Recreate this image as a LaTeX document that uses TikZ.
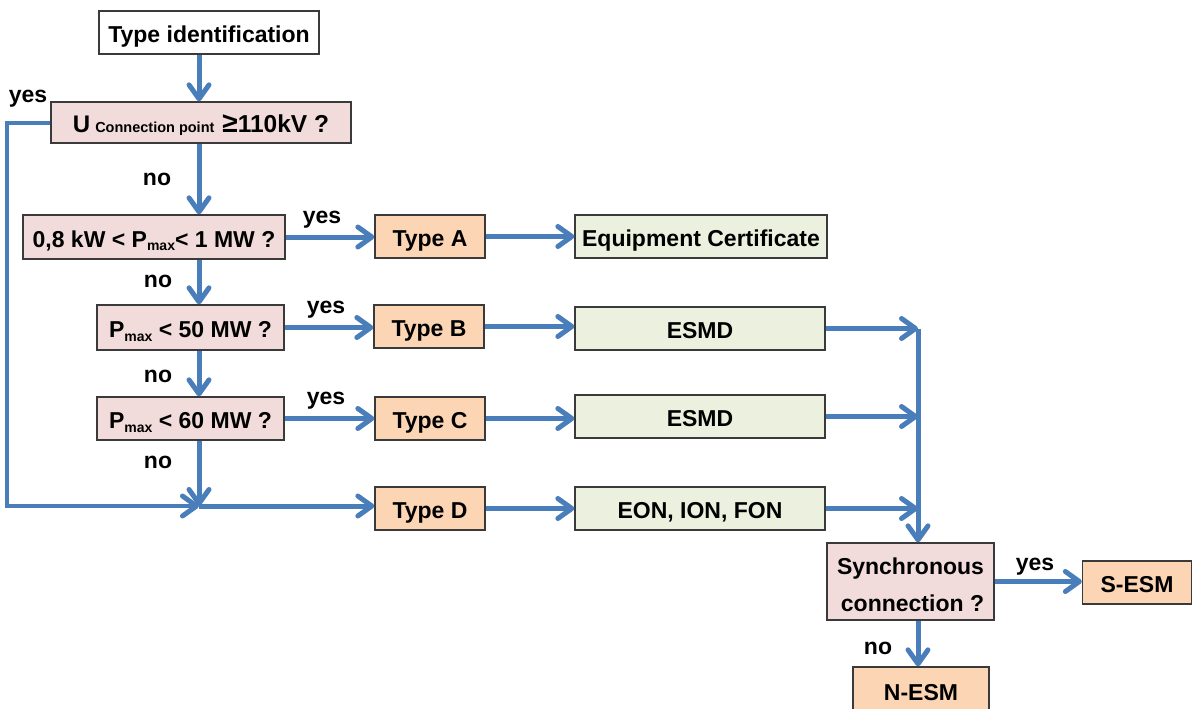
\documentclass[tikz,border=0pt]{standalone}
\usepackage{fontspec}
\setmainfont{Liberation Sans}
\usetikzlibrary{arrows.meta}
\definecolor{qpink}{HTML}{F2DCDB}
\definecolor{torange}{HTML}{FCD5B5}
\definecolor{rgreen}{HTML}{EBF1DE}
\definecolor{ablue}{HTML}{4A7EBB}
\definecolor{bordc}{HTML}{3A3A3A}
\newcommand{\fsz}{\fontsize{23}{27}\selectfont\bfseries}
\newcommand{\smax}{\raisebox{-0.3ex}{\fontsize{14}{16}\selectfont max}}
\begin{document}
\begin{tikzpicture}[x=1pt,y=-1pt,
  framebox/.style={draw=bordc, line width=1.3pt, inner sep=0pt, font=\fsz},
  basebox/.style={framebox, minimum height=43, text height=24pt, text depth=4pt},
  wbox/.style={basebox, fill=white},
  qbox/.style={basebox, fill=qpink},
  tbox/.style={basebox, fill=torange},
  rbox/.style={basebox, fill=rgreen},
  arr/.style={draw=ablue, line width=5pt, -{Straight Barb[length=14pt,width=20pt,line width=5pt,round]}},
  lbl/.style={font=\fsz, inner sep=0pt}]
\useasboundingbox (0,0) rectangle (1192,709);
% nodes
\node[wbox, minimum width=220] (tid) at (209,32.5) {Type identification};
\node[qbox, minimum width=300, minimum height=41] (u) at (201,122.5)
  {{\fontsize{24}{28}\selectfont U}\hspace{5pt}{\fontsize{14.5}{16}\selectfont\bfseries Connection point}\hspace{8pt}{\fontsize{28}{28}\selectfont ≥}{\fontsize{24.5}{28}\selectfont 110kV ?}\hspace{22pt}};
\node[qbox, minimum width=262, minimum height=44] (q1) at (154,237) {0,8 kW < P\smax< 1 MW ?};
\node[qbox, minimum width=187, minimum height=45] (q2) at (190.5,327.5) {P\smax{} < 50 MW ?};
\node[qbox, minimum width=187] (q3) at (190.5,418.5) {P\smax{} < 60 MW ?};
\node[tbox, minimum width=110] (ta) at (430,236.5) {Type A};
\node[tbox, minimum width=110] (tb) at (429,326.5) {Type B};
\node[tbox, minimum width=110] (tc) at (430,418.5) {Type C};
\node[tbox, minimum width=110] (td) at (430,508.5) {Type D};
\node[rbox, minimum width=252] (ec) at (701,236.5) {Equipment Certificate};
\node[rbox, minimum width=250] (e1) at (700,328.5) {ESMD};
\node[rbox, minimum width=250] (e2) at (700,416.5) {ESMD};
\node[rbox, minimum width=250] (e3) at (700,508.5) {EON, ION, FON};
\node[framebox, fill=qpink, minimum width=167, minimum height=77, align=center, font=\fontsize{23}{37}\selectfont\bfseries] (sy) at (910.5,581.5) {\rule{0pt}{23pt}Synchronous\\\hspace{4pt}connection ?};
\node[tbox, minimum width=109] (se) at (1137,582.5) {S-ESM};
\node[tbox, minimum width=136, minimum height=46] (ne) at (921,690) {N-ESM};
% helper coordinates
\coordinate (sp) at (199,0);
\coordinate (j) at (199,506);
\coordinate (cx) at (918,0);
% connectors
\draw[arr] (tid.south -| sp) -- (u.north -| sp);
\draw[arr] (u.south -| sp) -- (q1.north -| sp);
\draw[arr] (q1.south -| sp) -- (q2.north -| sp);
\draw[arr] (q2.south -| sp) -- (q3.north -| sp);
\draw[arr] (q3.south -| sp) -- (j);
\draw[arr, line width=4pt] (u.west) -- ++(-43,0) |- (j);
\draw[arr] (j) -- (j -| td.west);
\draw[arr] (q1.east) -- (q1.east -| ta.west);
\draw[arr] (q2.east) -- (q2.east -| tb.west);
\draw[arr] (q3.east) -- (q3.east -| tc.west);
\draw[arr] (ta.east) -- (ta.east -| ec.west);
\draw[arr] (tb.east) -- (tb.east -| e1.west);
\draw[arr] (tc.east) -- (tc.east -| e2.west);
\draw[arr] (td.east) -- (td.east -| e3.west);
\draw[arr] (e1.east) -- (e1.east -| cx);
\draw[arr] (e2.east) -- (e2.east -| cx);
\draw[arr] (e3.east) -- (e3.east -| cx);
\draw[arr] (e1.east -| cx) -- (sy.north -| cx);
\draw[arr] (sy.east) -- (sy.east -| se.west);
\draw[arr] (sy.south -| cx) -- (ne.north -| cx);
% labels
\node[lbl] (l1) at (28,99) {yes};
\node[lbl] (l2) at (157,179) {no};
\node[lbl] (l3) at (322,220) {yes};
\node[lbl] (l4) at (158,281) {no};
\node[lbl] (l5) at (326,310) {yes};
\node[lbl] (l6) at (158,376) {no};
\node[lbl] (l7) at (326,401) {yes};
\node[lbl] (l8) at (158,462) {no};
\node[lbl] (l9) at (1035,567) {yes};
\node[lbl] (l10) at (878,648) {no};
\end{tikzpicture}
\end{document}
